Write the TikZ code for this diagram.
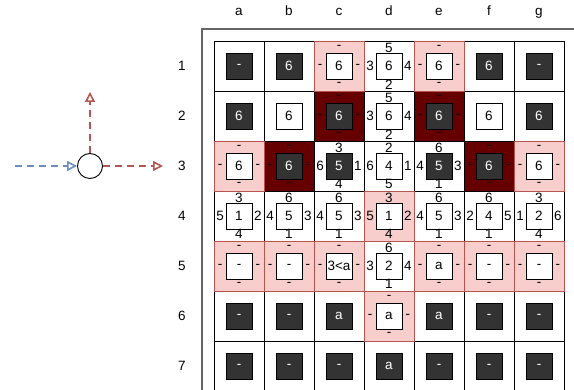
\documentclass[tikz,border=0pt]{standalone}
\usepackage{fontspec}
\setmainfont{Liberation Sans}
\usetikzlibrary{arrows.meta}
\definecolor{pinkfill}{HTML}{F8CECC}
\definecolor{pinkline}{HTML}{B85450}
\definecolor{darkred}{HTML}{660000}
\definecolor{darksq}{HTML}{333333}
\definecolor{blueline}{HTML}{6C8EBF}
\definecolor{framegray}{HTML}{666666}
\pgfdeclarelayer{bgl}
\pgfdeclarelayer{brdw}
\pgfdeclarelayer{brdr}
\pgfdeclarelayer{brdp}
\pgfsetlayers{bgl,brdw,brdr,brdp,main}
\tikzset{
  fillw/.style={fill=white},
  fillp/.style={fill=pinkfill},
  fillr/.style={fill=darkred},
  brdw/.style={draw=black, line width=0.9pt},
  brdp/.style={draw=pinkline, line width=0.9pt},
  brdr/.style={draw=black, line width=0.9pt},
  cellbg/.style={minimum size=50pt, inner sep=0pt, outer sep=0pt},
  sqd/.style={draw=black, fill=darksq, text=white, minimum size=26pt, inner sep=0pt, line width=0.8pt},
  sqw/.style={draw=black, fill=white, text=black, minimum size=26pt, inner sep=0pt, line width=0.9pt},
  lab/.style={inner sep=0pt, text=black},
  axlab/.style={inner sep=0pt, text=black},
  flow/.style={dashed, dash pattern=on 7pt off 5pt, line width=1.8pt, -{Triangle[open, length=10pt, width=10pt, line width=1.6pt]}},
}
\newcommand\mycell[9]{%
  \begin{pgfonlayer}{bgl}
    \node[cellbg, fill#3] (bg-#1-#2) at ({239+50*#1},{66+50*#2}) {};
  \end{pgfonlayer}
  \begin{pgfonlayer}{brd#3}
    \draw[brd#3] (bg-#1-#2.south west) rectangle (bg-#1-#2.north east);
  \end{pgfonlayer}
  \node[#4] (sq-#1-#2) at (bg-#1-#2.center) {#5};
  \node[lab] (t-#1-#2) at ([yshift=18.3pt]bg-#1-#2.center) {#6};
  \node[lab] (b-#1-#2) at ([yshift=-18.3pt]bg-#1-#2.center) {#7};
  \node[lab] (l-#1-#2) at ([xshift=-18.8pt]bg-#1-#2.center) {#8};
  \node[lab] (r-#1-#2) at ([xshift=18.8pt]bg-#1-#2.center) {#9};
}
\begin{document}
\begin{tikzpicture}[x=1pt, y=-1pt, font=\fontsize{13.5}{15}\selectfont]
\useasboundingbox (0,0) rectangle (574,390);
% frame
\draw[framegray, line width=1.6pt] (202,400) -- (202,29) -- (590,29);
% column and row labels
\foreach \c [count=\i from 0] in {a,b,c,d,e,f,g}
  \node[axlab, anchor=base] (col-\c) at ({239+50*\i},15.5) {\c};
\foreach \r [count=\i from 0] in {1,...,7}
  \node[axlab] (row-\r) at (182,{66+50*\i}) {\r};
% row 1
\mycell{0}{0}{w}{sqd}{-}{}{}{}{}
\mycell{1}{0}{w}{sqd}{6}{}{}{}{}
\mycell{2}{0}{p}{sqw}{6}{-}{-}{-}{-}
\mycell{3}{0}{w}{sqw}{6}{5}{2}{3}{4}
\mycell{4}{0}{p}{sqw}{6}{-}{-}{-}{-}
\mycell{5}{0}{w}{sqd}{6}{}{}{}{}
\mycell{6}{0}{w}{sqd}{-}{}{}{}{}
% row 2
\mycell{0}{1}{w}{sqd}{6}{}{}{}{}
\mycell{1}{1}{w}{sqw}{6}{}{}{}{}
\mycell{2}{1}{r}{sqd}{6}{-}{-}{-}{-}
\mycell{3}{1}{w}{sqw}{6}{5}{2}{3}{4}
\mycell{4}{1}{r}{sqd}{6}{-}{-}{-}{-}
\mycell{5}{1}{w}{sqw}{6}{}{}{}{}
\mycell{6}{1}{w}{sqd}{6}{}{}{}{}
% row 3
\mycell{0}{2}{p}{sqw}{6}{-}{-}{-}{-}
\mycell{1}{2}{r}{sqd}{6}{-}{-}{-}{-}
\mycell{2}{2}{w}{sqd}{5}{3}{4}{6}{1}
\mycell{3}{2}{w}{sqw}{4}{2}{5}{6}{1}
\mycell{4}{2}{w}{sqd}{5}{6}{1}{4}{3}
\mycell{5}{2}{r}{sqd}{6}{-}{-}{-}{-}
\mycell{6}{2}{p}{sqw}{6}{-}{-}{-}{-}
% row 4
\mycell{0}{3}{w}{sqw}{1}{3}{4}{5}{2}
\mycell{1}{3}{w}{sqw}{5}{6}{1}{4}{3}
\mycell{2}{3}{w}{sqw}{5}{6}{1}{4}{3}
\mycell{3}{3}{p}{sqw}{1}{3}{4}{5}{2}
\mycell{4}{3}{w}{sqw}{5}{6}{1}{4}{3}
\mycell{5}{3}{w}{sqw}{4}{6}{1}{2}{5}
\mycell{6}{3}{w}{sqw}{2}{3}{4}{1}{6}
% row 5
\mycell{0}{4}{p}{sqw}{-}{-}{-}{-}{-}
\mycell{1}{4}{p}{sqw}{-}{-}{-}{-}{-}
\mycell{2}{4}{p}{sqw}{3<a}{-}{-}{-}{-}
\mycell{3}{4}{w}{sqw}{2}{6}{1}{3}{4}
\mycell{4}{4}{p}{sqw}{a}{-}{-}{-}{-}
\mycell{5}{4}{p}{sqw}{-}{-}{-}{-}{-}
\mycell{6}{4}{p}{sqw}{-}{-}{-}{-}{-}
% row 6
\mycell{0}{5}{w}{sqd}{-}{}{}{}{}
\mycell{1}{5}{w}{sqd}{-}{}{}{}{}
\mycell{2}{5}{w}{sqd}{a}{}{}{}{}
\mycell{3}{5}{p}{sqw}{a}{-}{-}{-}{-}
\mycell{4}{5}{w}{sqd}{a}{}{}{}{}
\mycell{5}{5}{w}{sqd}{-}{}{}{}{}
\mycell{6}{5}{w}{sqd}{-}{}{}{}{}
% row 7
\mycell{0}{6}{w}{sqd}{-}{}{}{}{}
\mycell{1}{6}{w}{sqd}{-}{}{}{}{}
\mycell{2}{6}{w}{sqd}{-}{}{}{}{}
\mycell{3}{6}{w}{sqd}{a}{}{}{}{}
\mycell{4}{6}{w}{sqd}{-}{}{}{}{}
\mycell{5}{6}{w}{sqd}{-}{}{}{}{}
\mycell{6}{6}{w}{sqd}{-}{}{}{}{}
% left diagram
\node[draw=black, circle, minimum size=25pt, inner sep=0pt, line width=0.9pt] (hub) at (90,166) {};
\coordinate (inB) at (15,166);
\coordinate (outR) at (163,166);
\coordinate (outU) at (90,92);
\draw[flow, blueline] (inB) -- (hub.west);
\draw[flow, pinkline] (hub.east) -- (outR);
\draw[flow, pinkline] (hub.north) -- (outU);
\end{tikzpicture}
\end{document}
